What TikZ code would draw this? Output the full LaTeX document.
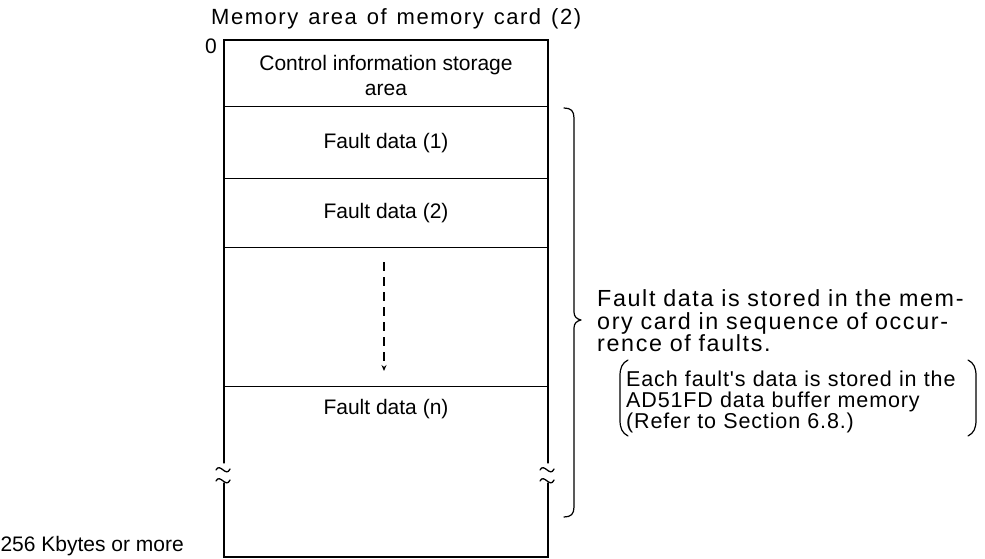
\documentclass[tikz,border=0pt]{standalone}
\usepackage{fontspec}
\setmainfont{Liberation Sans}
\newfontfamily\titlefont[LetterSpace=7,WordSpace=1.15]{Liberation Sans}
\newfontfamily\widefont[LetterSpace=7,WordSpace=1.3]{Liberation Sans}
\newfontfamily\midfont[LetterSpace=4,WordSpace=1.2]{Liberation Sans}
\usetikzlibrary{arrows.meta}
\tikzset{
  edge/.style={line width=1.3pt, line cap=round},
  sep/.style={line width=1pt},
  lbl/.style={inner sep=0pt, font=\fontsize{21}{24}\selectfont},
  titlelbl/.style={inner sep=0pt, font=\titlefont\fontsize{22}{24}\selectfont},
  widelbl/.style={inner sep=0pt, font=\widefont\fontsize{23.3}{22.5}\selectfont, align=left},
  notelbl/.style={inner sep=0pt, font=\midfont\fontsize{21.5}{21}\selectfont, align=left},
  brace/.style={line width=1.2pt, line cap=round, line join=round},
  flow/.style={line width=1.2pt, dash pattern=on 9pt off 6pt, -{Stealth[length=6pt,width=5pt]}},
  wave/.style={line width=1.3pt, line cap=round}
}
\begin{document}
\begin{tikzpicture}[x=1pt,y=-1pt]
\useasboundingbox (0,0) rectangle (985,559);

% corners of the memory map
\coordinate (tl) at (224,40);
\coordinate (tr) at (548,40);
\coordinate (bl) at (224,557);
\coordinate (br) at (548,557);

% outer frame, broken by the omission marks on both sides
\draw[edge] (224,463) -- (tl) -- (tr) -- (548,463);
\draw[edge] (224,483) -- (bl) -- (br) -- (548,483);

% omission marks
\foreach \xx in {223,547}{
  \draw[wave] (\xx-7,470) .. controls (\xx-3,462) and (\xx+3,478) .. (\xx+7,469);
  \draw[wave] (\xx-7,481) .. controls (\xx-3,473) and (\xx+3,489) .. (\xx+7,480);
}

% row separators
\foreach \yy in {107,178,247,386}{
  \draw[sep] (224,\yy) -- (548,\yy);
}

% titles and labels
\node[titlelbl, anchor=west] (title) at (211,19) {Memory area of memory card (2)};
\node[lbl] (zero) at (211,46) {0};
\node[lbl, align=center] (ctrl) at (386,75) {Control information storage\\[1pt]area};
\node[lbl] (f1) at (386,143) {Fault data (1)};
\node[lbl] (f2) at (386,213) {Fault data (2)};
\node[lbl] (fn) at (386,409) {Fault data (n)};
\node[lbl, anchor=east] (size) at (184,546) {256 Kbytes or more};

% sequence arrow through the unnamed rows
\coordinate (seqA) at (384,262);
\coordinate (seqB) at (384,371);
\draw[flow] (seqA) -- (seqB);

% brace collecting the fault data rows
\coordinate (bt) at (564,108);
\coordinate (bb) at (564,517);
\coordinate (tip) at (581,320);
\draw[brace] (bt) .. controls (571,108) and (574,111) .. (574,118) -- (574,312)
  .. controls (574,317) and (577,319) .. (tip)
  .. controls (577,321) and (574,323) .. (574,328) -- (574,507)
  .. controls (574,514) and (571,517) .. (bb);

\node[widelbl, anchor=west, text width=390pt] (note) at (597,321)
  {Fault data is stored in the mem-\\ory card in sequence of occur-\\rence of faults.};

\node[notelbl, anchor=west, text width=345pt] (sub) at (626,402)
  {Each fault's data is stored in the\\AD51FD data buffer memory\\(Refer to Section 6.8.)};

% parentheses around the remark
\draw[brace] (628,360) .. controls (622,363) and (620,368) .. (620,376) -- (620,420)
  .. controls (620,428) and (622,433) .. (628,436);
\draw[brace] (968,360) .. controls (974,363) and (976,368) .. (976,376) -- (976,420)
  .. controls (976,428) and (974,433) .. (968,436);
\end{tikzpicture}
\end{document}
